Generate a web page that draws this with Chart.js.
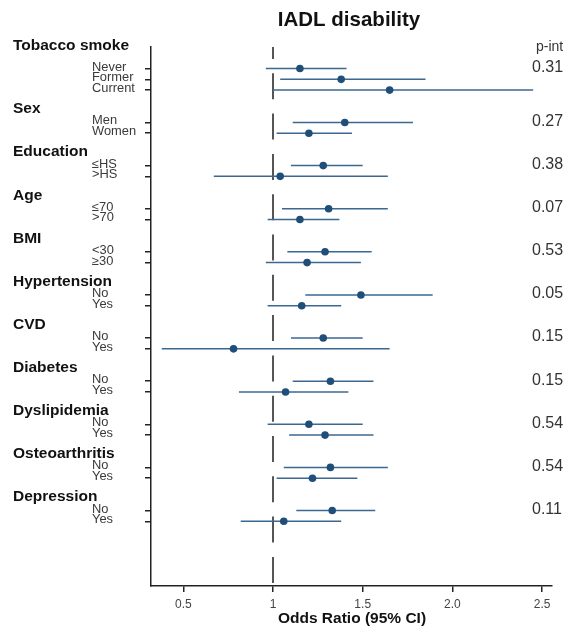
<!DOCTYPE html>
<html>
<head>
<meta charset="utf-8">
<title>IADL disability</title>
<script src="https://cdn.jsdelivr.net/npm/chart.js@4/dist/chart.umd.min.js"></script>
<style>
  html, body { margin: 0; padding: 0; background: #fff; }
  #wrap { width: 572px; height: 631px; }
</style>
</head>
<body>
<div id="wrap"><canvas id="forest" width="572" height="631"></canvas></div>
<script>
'use strict';

// groups and their subgroups, top to bottom
var groups = ['Tobacco smoke', 'Sex', 'Education', 'Age', 'BMI', 'Hypertension',
    'CVD', 'Diabetes', 'Dyslipidemia', 'Osteoarthritis', 'Depression'];
var subgroups = [
    ['Never', 'Former', 'Current'],
    ['Men', 'Women'],
    ['≤HS', '>HS'],
    ['≤70', '>70'],
    ['<30', '≥30'],
    ['No', 'Yes'],
    ['No', 'Yes'],
    ['No', 'Yes'],
    ['No', 'Yes'],
    ['No', 'Yes'],
    ['No', 'Yes']
];
var pInt = ['0.31', '0.27', '0.38', '0.07', '0.53', '0.05', '0.15', '0.15', '0.54', '0.54', '0.11'];

// odds ratio and 95% CI, one entry per subgroup row
var oddsRatio = [1.15, 1.38, 1.65, 1.40, 1.20, 1.28, 1.04, 1.31, 1.15, 1.29, 1.19,
    1.49, 1.16, 1.28, 0.78, 1.32, 1.07, 1.20, 1.29, 1.32, 1.22, 1.33, 1.06];
var ciLow = [0.96, 1.04, 1.00, 1.11, 1.02, 1.10, 0.67, 1.05, 0.97, 1.08, 0.96,
    1.18, 0.97, 1.10, 0.38, 1.11, 0.81, 0.97, 1.09, 1.06, 1.02, 1.13, 0.82];
var ciHigh = [1.41, 1.85, 2.45, 1.78, 1.44, 1.50, 1.64, 1.64, 1.37, 1.55, 1.49,
    1.89, 1.38, 1.50, 1.65, 1.56, 1.42, 1.50, 1.56, 1.64, 1.47, 1.57, 1.38];

var xTicks = [0.5, 1, 1.5, 2, 2.5];
var xTickLabels = ['0.5', '1', '1.5', '2.0', '2.5'];

// row slots: each group's rows are one slot apart, groups 3 slots apart
var rowPos = [], rowLabel = [], groupFirst = [];
var slot = 2;
for (var g = 0; g < groups.length; g++) {
    groupFirst.push(slot);
    for (var s = 0; s < subgroups[g].length; s++) {
        rowPos.push(slot);
        rowLabel.push(subgroups[g][s]);
        slot++;
    }
    slot += 2;
}

var SANS = '"Liberation Sans", Arial, sans-serif';
var pointColor = '#1f4e79';
var lineColor = '#3b6790';

function stretchText(ctx, text, x, y, sx) {
    ctx.save();
    ctx.translate(x, y);
    ctx.scale(sx, 1);
    ctx.fillText(text, 0, 0);
    ctx.restore();
}

var forestPlugin = {
    id: 'forest',
    beforeDatasetsDraw: function(chart) {
        var ctx = chart.ctx, xs = chart.scales.x, ys = chart.scales.y, area = chart.chartArea;
        ctx.save();
        // reference line at OR = 1
        var x1 = xs.getPixelForValue(1);
        ctx.strokeStyle = '#555';
        ctx.lineWidth = 2;
        ctx.setLineDash([26, 14.3]);
        ctx.lineDashOffset = 14;
        ctx.beginPath();
        ctx.moveTo(x1, area.top);
        ctx.lineTo(x1, area.bottom);
        ctx.stroke();
        ctx.setLineDash([]);
        // confidence intervals
        ctx.strokeStyle = lineColor;
        ctx.lineWidth = 1.5;
        for (var i = 0; i < rowPos.length; i++) {
            var y = ys.getPixelForValue(rowPos[i]);
            ctx.beginPath();
            ctx.moveTo(xs.getPixelForValue(ciLow[i]), y);
            ctx.lineTo(xs.getPixelForValue(ciHigh[i]), y);
            ctx.stroke();
        }
        ctx.restore();
    },
    afterDraw: function(chart) {
        var ctx = chart.ctx, ys = chart.scales.y, area = chart.chartArea;
        ctx.save();
        // title
        ctx.fillStyle = '#111';
        ctx.textAlign = 'center';
        ctx.textBaseline = 'middle';
        ctx.font = 'bold 20.5px ' + SANS;
        ctx.fillText('IADL disability', 349, 20);
        // x axis title
        ctx.font = 'bold 15.5px ' + SANS;
        ctx.fillText('Odds Ratio (95% CI)', 352, 619);

        // group headers and p-int
        ctx.textAlign = 'left';
        for (var g = 0; g < groups.length; g++) {
            var hv = g === 0 ? -0.12 : groupFirst[g] - 1.25;
            ctx.fillStyle = '#111';
            ctx.font = 'bold 15.5px ' + SANS;
            ctx.textBaseline = 'middle';
            ctx.fillText(groups[g], 13, ys.getPixelForValue(hv));
            ctx.fillStyle = '#333';
            ctx.font = '16px ' + SANS;
            ctx.fillText(pInt[g], 532, ys.getPixelForValue(groupFirst[g]) - 1);
        }
        ctx.fillStyle = '#333';
        ctx.font = '14px ' + SANS;
        ctx.fillText('p-int', 536, area.top);

        // subgroup labels
        ctx.fillStyle = '#3a3a3a';
        ctx.font = '12.5px ' + SANS;
        ctx.textBaseline = 'alphabetic';
        for (var i = 0; i < rowPos.length; i++) {
            stretchText(ctx, rowLabel[i], 92, ys.getPixelForValue(rowPos[i]) + 2, 1.03);
        }
        ctx.restore();
    }
};

var points = oddsRatio.map(function(v, i) { return { x: v, y: rowPos[i] }; });

new Chart(document.getElementById('forest').getContext('2d'), {
    type: 'scatter',
    data: {
        datasets: [{
            data: points,
            backgroundColor: pointColor,
            borderColor: pointColor,
            borderWidth: 0,
            pointRadius: 3.8
        }]
    },
    options: {
        responsive: false,
        animation: false,
        events: [],
        layout: { padding: { left: 151, top: 47, right: 20, bottom: 0 } },
        plugins: {
            legend: { display: false },
            tooltip: { enabled: false }
        },
        scales: {
            x: {
                type: 'linear',
                min: 0.32,
                max: 2.555,
                afterBuildTicks: function(scale) {
                    scale.ticks = xTicks.map(function(v) { return { value: v }; });
                },
                afterFit: function(scale) { scale.height = 45; },
                ticks: {
                    color: '#444',
                    padding: 5,
                    font: { family: SANS, size: 12 },
                    callback: function(value, index) { return xTickLabels[index]; }
                },
                grid: { drawOnChartArea: false, tickLength: 6, color: '#222', lineWidth: 1.5 },
                border: { color: '#222', width: 1.5 }
            },
            y: {
                type: 'linear',
                min: 0,
                max: 50,
                reverse: true,
                afterBuildTicks: function(scale) {
                    scale.ticks = rowPos.map(function(v) { return { value: v }; });
                },
                afterFit: function(scale) { scale.width = 0; },
                ticks: { display: false },
                grid: { drawOnChartArea: false, tickLength: 6, color: '#222', lineWidth: 1.5 },
                border: { color: '#222', width: 1.5 }
            }
        }
    },
    plugins: [forestPlugin]
});
</script>
</body>
</html>
